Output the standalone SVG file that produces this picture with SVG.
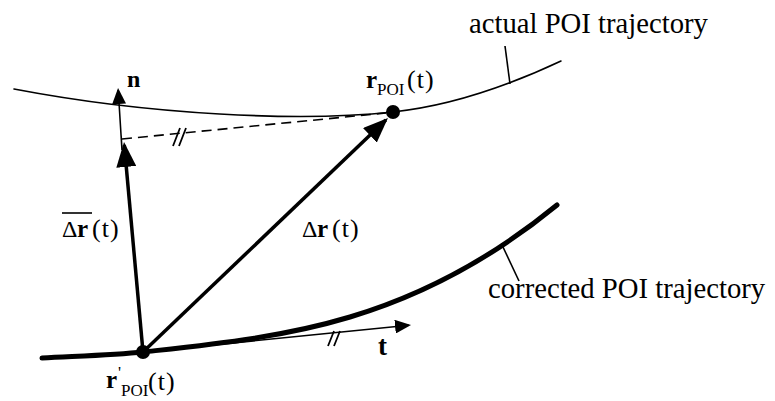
<svg xmlns="http://www.w3.org/2000/svg" width="775" height="401" viewBox="0 0 775 401">
<style>
.curve{fill:none;stroke:#000;stroke-linecap:round}
.thin{stroke-width:1.6}
.thick{stroke-width:5}
.leader{stroke:#000;stroke-width:1.6;fill:none}
.vec{stroke:#000;fill:none;stroke-width:3.5}
.vthin{stroke:#000;fill:none;stroke-width:1.6}
.dash{stroke:#000;fill:none;stroke-width:1.6;stroke-dasharray:10 6}
.tick{stroke:#000;stroke-width:1.8;fill:none}
.dot{fill:#000}
.cap{font-size:28.7px}
.b{font-weight:bold}
.sym{font-size:24px}
.rb{font-size:25px;font-weight:bold}
.sub{font-size:17px}
.par{font-size:26px;letter-spacing:1px}
</style>
<defs>
<marker id="headBig" markerUnits="userSpaceOnUse" markerWidth="25" markerHeight="20" viewBox="0 0 25 20" refX="22" refY="10" orient="auto"><path d="M0,0 L25,10 L0,20 z" fill="#000"/></marker>
<marker id="headSmall" markerUnits="userSpaceOnUse" markerWidth="16" markerHeight="14" viewBox="0 0 16 14" refX="14" refY="7" orient="auto"><path d="M0,0 L16,7 L0,14 z" fill="#000"/></marker>
</defs>
<rect width="775" height="401" fill="#fff"/>

<g font-family="'Liberation Serif', 'Times New Roman', 'DejaVu Serif', serif" fill="#000">

<g id="actual-trajectory">
<path class="curve thin" d="M14,89 C150,115 300,122 393,112 C450,106 510,85 561,61"/>
<line class="leader" x1="505" y1="46" x2="510" y2="84"/>
<text class="cap" x="469" y="33">actual POI trajectory</text>
</g>

<g id="corrected-trajectory">
<path class="curve thick" d="M42,358 C80,356 115,355 143,352 C212,344.4 281,337.7 350,317 C419,296.3 488,261.6 557,205"/>
<line class="leader" x1="503" y1="247" x2="519" y2="281"/>
<text class="cap" x="488" y="298">corrected POI trajectory</text>
</g>

<g id="connectors">
<line class="vec" x1="143" y1="352" x2="124.3" y2="145" marker-end="url(#headBig)"/>
<line class="vthin" x1="122" y1="150" x2="118.2" y2="90" marker-end="url(#headSmall)"/>
<line class="vec" x1="143" y1="352" x2="385.8" y2="120.1" marker-end="url(#headBig)"/>
<line class="vthin" x1="143" y1="352" x2="409" y2="325.2" marker-end="url(#headSmall)"/>
<line class="dash" x1="122" y1="139" x2="386" y2="113"/>
<path class="tick" d="M173,146 L180,128 M179,146 L186,128"/>
<path class="tick" d="M328,346 L334,331 M334,346 L340,331"/>
</g>

<g id="point-rPOI">
<circle class="dot" cx="393" cy="112" r="7"/>
<text x="366" y="88"><tspan class="rb">r</tspan><tspan class="sub" x="377" y="95">POI</tspan><tspan class="par" x="407" y="88">(t)</tspan></text>
</g>

<g id="point-rPOI-prime">
<circle class="dot" cx="143" cy="352" r="7"/>
<text x="106" y="388"><tspan class="rb">r</tspan><tspan class="sub" x="118" y="378">'</tspan><tspan class="sub" x="121" y="396">POI</tspan><tspan class="par" x="148" y="390">(t)</tspan></text>
</g>

<g id="label-n">
<text class="sym b" x="127" y="87">n</text>
</g>

<g id="label-t">
<text class="b" font-size="27" x="378" y="355">t</text>
</g>

<g id="label-delta-r-bar">
<line x1="62" y1="213" x2="92" y2="213" stroke="#000" stroke-width="1.6"/>
<text x="62" y="237"><tspan class="sym">Δ</tspan><tspan class="rb" x="77">r</tspan><tspan class="par" x="92">(t)</tspan></text>
</g>

<g id="label-delta-r">
<text x="302" y="237"><tspan class="sym">Δ</tspan><tspan class="rb" x="317">r</tspan><tspan class="par" x="332">(t)</tspan></text>
</g>

</g>
</svg>
